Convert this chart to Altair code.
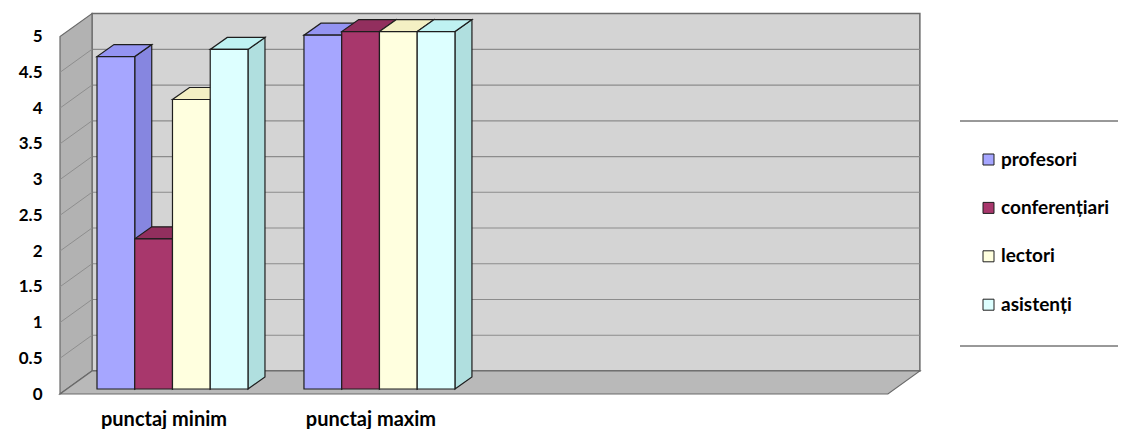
import json
import altair as alt
import pandas as pd

# ---------------- data ----------------
categories = ["punctaj minim", "punctaj maxim"]
n_slots = 4  # the category axis keeps two empty slots to the right
series = ["profesori", "conferențiari", "lectori", "asistenți"]
profesori = [4.65, 4.95]
conferentiari = [2.1, 5.0]
lectori = [4.05, 5.0]
asistenti = [4.75, 5.0]
y_ticks = [0, 0.5, 1, 1.5, 2, 2.5, 3, 3.5, 4, 4.5, 5]

# ---------------- styles ----------------
front_colors = ["#a6a6ff", "#a8376c", "#ffffdf", "#ddffff"]
side_colors = ["#8686e0", "#8a2c58", "#e8e6c4", "#b0dfdf"]
top_colors = ["#9494f2", "#922f5e", "#f4f0c4", "#bff2f2"]
FONT = "Lato"

PX_X = 207.0   # pixels per category slot
PX_Y = 71.4    # pixels per value unit
X_MAX = 4.16
Y_MAX = 5.33
W = round(X_MAX * PX_X)
H = round(Y_MAX * PX_Y)

wall_dx, wall_dy = 32 / PX_X, 23 / PX_Y   # depth of the walls / floor
set_dx, set_dy = 7 / PX_X, 5 / PX_Y       # bars set back from the front edge
bar_dx, bar_dy = 17 / PX_X, 12 / PX_Y     # bar depth
bar_x0 = 37 / PX_X
bar_w = 37.75 / PX_X
v_max = y_ticks[-1]

values = [profesori, conferentiari, lectori, asistenti]

# ---------------- geometry derived from the data ----------------
fronts, sides, tops = [], [], []
for j, s in enumerate(series):
    for i, v in enumerate(values[j]):
        bid = f"b{j}{i}"
        x1 = i + bar_x0 + j * bar_w
        x2 = x1 + bar_w
        b = set_dy
        t = set_dy + v
        fronts.append(dict(series=s, xa=x1, xb=x2, ya=b, yb=t))
        sides += [
            dict(bid=bid, col=side_colors[j], xa=x2, ya=b, yb=t),
            dict(bid=bid, col=side_colors[j], xa=x2 + bar_dx, ya=b + bar_dy, yb=t + bar_dy),
        ]
        tops += [
            dict(bid=bid, col=top_colors[j], xa=x1, ya=t, yb=t),
            dict(bid=bid, col=top_colors[j], xa=x1 + bar_dx, ya=t, yb=t + bar_dy),
            dict(bid=bid, col=top_colors[j], xa=x2, ya=t, yb=t + bar_dy),
            dict(bid=bid, col=top_colors[j], xa=x2 + bar_dx, ya=t + bar_dy, yb=t + bar_dy),
        ]

df_front = pd.DataFrame(fronts)
df_side = pd.DataFrame(sides)
df_top = pd.DataFrame(tops)

back_wall = pd.DataFrame([dict(xa=wall_dx, xb=n_slots + wall_dx, ya=wall_dy, yb=v_max + wall_dy)])
back_grid = pd.DataFrame([dict(xa=wall_dx, xb=n_slots + wall_dx, ya=v + wall_dy) for v in y_ticks[1:-1]])
left_wall = pd.DataFrame([dict(xa=0, ya=0, yb=v_max), dict(xa=wall_dx, ya=wall_dy, yb=v_max + wall_dy)])
left_grid = pd.DataFrame(
    [dict(g=k, xa=0, ya=v) for k, v in enumerate(y_ticks[1:-1])]
    + [dict(g=k, xa=wall_dx, ya=v + wall_dy) for k, v in enumerate(y_ticks[1:-1])]
)
floor = pd.DataFrame([
    dict(xa=0, ya=0, yb=0),
    dict(xa=wall_dx, ya=0, yb=wall_dy),
    dict(xa=n_slots, ya=0, yb=wall_dy),
    dict(xa=n_slots + wall_dx, ya=wall_dy, yb=wall_dy),
])

xs = alt.Scale(domain=[0, X_MAX], nice=False, zero=False)
ys = alt.Scale(domain=[0, Y_MAX], nice=False, zero=False)

label_expr = json.dumps(categories) + "[floor(datum.value)]"

x_axis = alt.Axis(values=[k + 0.5 for k in range(len(categories))], labelExpr=label_expr,
                  domain=False, ticks=False, grid=False, labelPadding=31, labelFontSize=20,
                  labelFont=FONT, labelFontWeight="bold", labelColor="black", title=None,
                  labelBaseline="alphabetic", labelOverlap=False)
y_axis = alt.Axis(values=y_ticks, format="~g", domain=False, ticks=False, grid=False,
                  labelPadding=18, labelFontSize=17, labelFont=FONT, labelFontWeight="bold",
                  labelColor="black", title=None, labelOverlap=False)


def X(field="xa"):
    return alt.X(f"{field}:Q", scale=xs, axis=x_axis, title=None)


def Y(field="ya"):
    return alt.Y(f"{field}:Q", scale=ys, axis=y_axis, title=None, stack=None)


l_back = alt.Chart(back_wall).mark_rect(fill="#d4d4d4", stroke="#6a6a6a", strokeWidth=1.5).encode(
    x=X(), x2="xb", y=Y(), y2="yb")

l_back_grid = alt.Chart(back_grid).mark_rule(color="#8c8c8c", strokeWidth=1.2).encode(
    x=X(), x2="xb", y=Y())

l_left = alt.Chart(left_wall).mark_area(fill="#b2b2b2", stroke="#6a6a6a", strokeWidth=1.2,
                                        orient="vertical").encode(
    x=X(), y=Y(), y2="yb")

l_left_grid = alt.Chart(left_grid).mark_line(color="#8e8e8e", strokeWidth=1).encode(
    x=X(), y=Y(), detail="g:N")

l_floor = alt.Chart(floor).mark_area(fill="#b9b9b9", stroke="#6a6a6a", strokeWidth=1.2,
                                     orient="vertical").encode(
    x=X(), y=Y(), y2="yb")

l_side = alt.Chart(df_side).mark_area(stroke="#1e1e1e", strokeWidth=1.2, opacity=1,
                                      orient="vertical").encode(
    x=X(), y=Y(), y2="yb", fill=alt.Fill("col:N", scale=None), detail="bid:N")

l_top = alt.Chart(df_top).mark_area(stroke="#1e1e1e", strokeWidth=1.2, opacity=1,
                                    orient="vertical").encode(
    x=X(), y=Y(), y2="yb", fill=alt.Fill("col:N", scale=None), detail="bid:N")

legend = alt.Legend(title=None, orient="none", legendX=919, legendY=137, symbolType="square",
                    symbolSize=121, symbolStrokeColor="#222222", symbolStrokeWidth=1,
                    symbolOpacity=1, labelFontSize=19, labelFont=FONT, labelFontWeight="bold",
                    labelColor="black", labelOffset=3, rowPadding=28.4, padding=0)

l_front = alt.Chart(df_front).mark_rect(stroke="#1e1e1e", strokeWidth=1.2, opacity=1).encode(
    x=X(), x2="xb", y=Y(), y2="yb",
    fill=alt.Fill("series:N", scale=alt.Scale(domain=series, range=front_colors), legend=legend))

rule_df = pd.DataFrame({"k": [0]})
l_rule_top = alt.Chart(rule_df).mark_rule(color="#333333", strokeWidth=1).encode(
    x=alt.value(900), x2=alt.value(1070), y=alt.value(108))
l_rule_bot = alt.Chart(rule_df).mark_rule(color="#333333", strokeWidth=1).encode(
    x=alt.value(900), x2=alt.value(1070), y=alt.value(333))

chart = alt.layer(
    l_back, l_back_grid, l_left, l_left_grid, l_floor, l_side, l_top, l_front, l_rule_top, l_rule_bot
).properties(
    width=W, height=H,
    autosize=alt.AutoSizeParams(type="none"),
    padding={"left": 52, "top": 5, "right": 1110 - 52 - W, "bottom": 421 - 5 - H},
    background="white",
).configure_view(stroke=None).configure_axis(
    labelFont=FONT, labelFontWeight="bold", labelColor="black"
).configure_legend(
    labelFont=FONT, labelFontSize=19, labelFontWeight="bold", labelColor="black"
)

chart.save("out.html", embed_options={"renderer": "svg", "actions": False})
